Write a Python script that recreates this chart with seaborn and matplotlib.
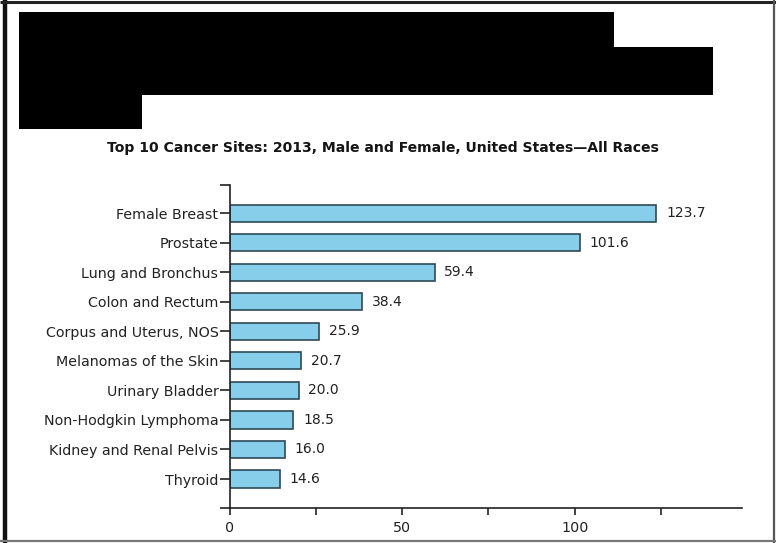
import matplotlib
matplotlib.use("Agg")
import matplotlib.pyplot as plt
import seaborn as sns
import pandas as pd
from matplotlib.patches import Polygon
from matplotlib.lines import Line2D

# ---- data ----
sites = ["Female Breast", "Prostate", "Lung and Bronchus", "Colon and Rectum",
         "Corpus and Uterus, NOS", "Melanomas of the Skin", "Urinary Bladder",
         "Non-Hodgkin Lymphoma", "Kidney and Renal Pelvis", "Thyroid"]
rates = [123.7, 101.6, 59.4, 38.4, 25.9, 20.7, 20.0, 18.5, 16.0, 14.6]
major_ticks = [0, 50, 100]
minor_ticks = [25, 75, 125]

title = "Top 10 Cancer Sites: 2013, Male and Female, United States\u2014All Races"

df = pd.DataFrame({"site": sites, "rate": rates})

sns.set_style("white")
plt.rcParams["font.family"] = ["DejaVu Sans"]

W, H = 776, 543
fig = plt.figure(figsize=(W / 100, H / 100), dpi=100)

# axes placed in pixel terms of the reference
left, right, top, bottom = 229.5, 741.7, 185, 508
ax = fig.add_axes([left / W, 1 - bottom / H, (right - left) / W, (bottom - top) / H])

sns.barplot(data=df, x="rate", y="site", orient="h", ax=ax,
            color="#87CEEB", saturation=1, width=0.58,
            edgecolor="#2f4a58", linewidth=1.2)

ax.set_xlim(0, 148.4)
ax.set_ylim(9.98, -0.95)

for c in ax.containers:
    ax.bar_label(c, fmt="%.1f", padding=7, fontsize=10, color="#222222")

# y ticks: categories plus the two ends of the axis
ypos = list(range(len(sites))) + [-0.95, 9.98]
ax.set_yticks(ypos, sites + ["", ""])
ax.set_xticks(major_ticks + minor_ticks,
              [str(t) for t in major_ticks] + ["" for _ in minor_ticks])

ax.tick_params(axis="y", left=True, length=7, width=1.2, color="#222222",
               labelsize=10.3, labelcolor="#222222", pad=1)
ax.tick_params(axis="x", bottom=True, length=5, width=1.2, color="#222222",
               labelsize=10.3, labelcolor="#222222", pad=4)

for side in ["top", "right"]:
    ax.spines[side].set_visible(False)
for side in ["left", "bottom"]:
    ax.spines[side].set_color("#222222")
    ax.spines[side].set_linewidth(1.2)
ax.set_xlabel("")
ax.set_ylabel("")

fig.text(383 / W, 1 - 148 / H, title, ha="center", va="center",
         fontsize=10.1, fontweight="bold", color="#151515")

# redacted header block
pts = [(19, 12), (614, 12), (614, 47), (713, 47), (713, 95),
       (142, 95), (142, 129), (19, 129)]
fig.patches.append(Polygon([(x / W, 1 - y / H) for x, y in pts], closed=True,
                           transform=fig.transFigure, facecolor="black",
                           edgecolor="none"))


# outer frame: heavy black left/top, thinner grey right/bottom
def frame_line(x0, y0, x1, y1, color, lw):
    fig.lines.append(Line2D([x0 / W, x1 / W], [1 - y0 / H, 1 - y1 / H],
                            transform=fig.transFigure, color=color,
                            linewidth=lw, solid_capstyle="butt"))


frame_line(5, 0, 5, H, "#111111", 3.2)
frame_line(0, 1.5, W, 1.5, "#222222", 2.2)
frame_line(774, 0, 774, H, "#555555", 1.6)
frame_line(0, 541, W, 541, "#777777", 1.6)

fig.savefig("out.png", dpi=100)
